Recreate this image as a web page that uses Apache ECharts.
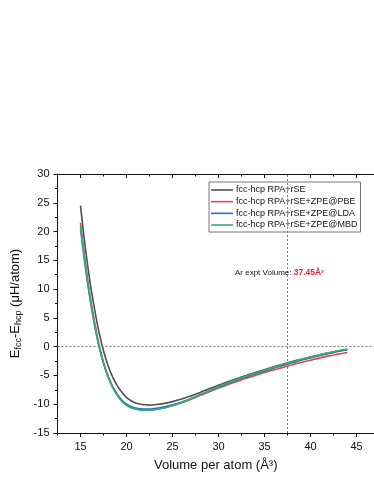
<!DOCTYPE html>
<html>
<head>
<meta charset="utf-8">
<script src="https://cdn.jsdelivr.net/npm/echarts@6/dist/echarts.min.js"></script>
<style>
html,body{margin:0;padding:0;background:#fff;}
#chart{width:374px;height:484px;}
</style>
</head>
<body>
<div id="chart"></div>
<script>
// ---- data ----
const volumes = [15, 15.5, 16, 16.5, 17, 17.5, 18, 18.5, 19, 19.5, 20, 20.5, 21, 21.5, 22, 22.5,
  23, 24, 25, 26, 27, 28, 29, 30, 31, 32, 33, 34, 35, 36, 37, 38, 39, 40, 41, 42, 43, 44];
const rse = [24.5, 17.5, 11.6, 6.8, 2.6, -0.7, -3.3, -5.3, -6.8, -7.9, -8.8, -9.4, -9.8, -10.0, -10.1, -10.15,
  -10.1, -9.9, -9.55, -9.1, -8.55, -7.95, -7.3, -6.7, -6.1, -5.55, -5.0, -4.5, -4.0, -3.5, -3.05, -2.6, -2.2, -1.8, -1.4, -1.05, -0.75, -0.45];
const pbe = [21.5, 15.0, 9.3, 4.5, 0.5, -2.7, -5.1, -6.95, -8.35, -9.4, -10.1, -10.55, -10.8, -10.95, -11.0, -11.0,
  -10.9, -10.65, -10.25, -9.75, -9.15, -8.5, -7.85, -7.2, -6.6, -6.05, -5.5, -5.0, -4.5, -4.05, -3.6, -3.15, -2.75, -2.35, -1.95, -1.6, -1.3, -1.0];
const lda = [20.5, 14.1, 8.6, 4.0, 0.1, -2.9, -5.2, -7.0, -8.3, -9.3, -10.0, -10.4, -10.65, -10.8, -10.85, -10.85,
  -10.75, -10.5, -10.1, -9.6, -9.0, -8.35, -7.7, -7.05, -6.45, -5.85, -5.3, -4.75, -4.25, -3.75, -3.25, -2.8, -2.35, -1.95, -1.55, -1.2, -0.85, -0.55];
const mbd = [21.0, 14.5, 8.9, 4.2, 0.2, -2.9, -5.3, -7.1, -8.5, -9.5, -10.2, -10.6, -10.85, -11.0, -11.05, -11.05,
  -10.95, -10.7, -10.25, -9.7, -9.05, -8.35, -7.65, -6.95, -6.3, -5.7, -5.15, -4.6, -4.1, -3.6, -3.1, -2.65, -2.2, -1.8, -1.4, -1.05, -0.7, -0.4];
const seriesNames = ['fcc-hcp RPA+rSE', 'fcc-hcp RPA+rSE+ZPE@PBE', 'fcc-hcp RPA+rSE+ZPE@LDA', 'fcc-hcp RPA+rSE+ZPE@MBD'];
const xTicks = [15, 20, 25, 30, 35, 40, 45];
const xMinorTicks = [12.5, 17.5, 22.5, 27.5, 32.5, 37.5, 42.5];
const yTicks = [-15, -10, -5, 0, 5, 10, 15, 20, 25, 30];
const exptVolume = 37.45;

// ---- chart ----
const FONT = 'Liberation Sans, Arial, sans-serif';
const colors = ['#505050', '#e8464a', '#2a6bd6', '#35b06c'];
const pair = (ys) => volumes.map((v, i) => [v, ys[i]]);
const allData = [rse, pbe, lda, mbd];

const xBase = {type: 'value', min: 12.5, max: 46.9, splitLine: {show: false}, gridIndex: 0};
const axisLineStyle = {color: '#111', width: 1};

const chart = echarts.init(document.getElementById('chart'), null, {renderer: 'canvas'});
chart.setOption({
  animation: false,
  backgroundColor: '#fff',
  textStyle: {fontFamily: FONT},
  grid: {left: 57.5, right: 0, top: 174, bottom: 51, containLabel: false},
  legend: {
    orient: 'vertical', left: 209, top: 182,
    padding: [3.5, 3, 2.5, 2],
    icon: 'rect',
    itemWidth: 22, itemHeight: 1.6, itemGap: 2.67,
    borderColor: '#777', borderWidth: 1,
    textStyle: {fontSize: 9, lineHeight: 9, color: '#111', fontFamily: FONT, padding: [0, 0, 0, -2]},
    data: seriesNames
  },
  xAxis: [
    Object.assign({}, xBase, {
      position: 'bottom',
      axisLine: {show: true, onZero: false, lineStyle: axisLineStyle},
      axisTick: {show: true, customValues: xTicks, length: 4, inside: false, lineStyle: axisLineStyle},
      axisLabel: {show: true, customValues: xTicks, fontSize: 11, margin: 8, color: '#111', fontFamily: FONT},
      name: 'Volume per atom (Å³)', nameLocation: 'middle', nameGap: 26,
      nameTextStyle: {fontSize: 13, color: '#111', fontFamily: FONT}
    }),
    Object.assign({}, xBase, {
      position: 'bottom',
      axisLine: {show: false, onZero: false},
      axisTick: {show: true, customValues: xMinorTicks, length: 2.5, inside: false, lineStyle: axisLineStyle},
      axisLabel: {show: false}
    }),
    Object.assign({}, xBase, {
      position: 'top',
      axisLine: {show: true, onZero: false, lineStyle: axisLineStyle},
      axisTick: {show: true, customValues: xTicks, length: 4, inside: true, lineStyle: axisLineStyle},
      axisLabel: {show: false}
    }),
    Object.assign({}, xBase, {
      position: 'top',
      axisLine: {show: false, onZero: false},
      axisTick: {show: true, customValues: xMinorTicks, length: 2.5, inside: true, lineStyle: axisLineStyle},
      axisLabel: {show: false}
    })
  ],
  yAxis: [{
    type: 'value', min: yTicks[0], max: yTicks[yTicks.length - 1], interval: 5,
    position: 'left',
    axisLine: {show: true, onZero: false, lineStyle: axisLineStyle},
    axisTick: {show: true, length: 4, inside: false, lineStyle: axisLineStyle},
    minorTick: {show: true, splitNumber: 2, length: 2.5, lineStyle: axisLineStyle},
    splitLine: {show: false},
    minorSplitLine: {show: false},
    axisLabel: {fontSize: 11, margin: 8, color: '#111', fontFamily: FONT},
    name: '{n|E}{s|fcc}{n|-E}{s|hcp}{n| (μH/atom)}',
    nameLocation: 'middle', nameRotate: 90, nameGap: 31,
    nameTextStyle: {
      color: '#111', fontFamily: FONT,
      rich: {
        n: {fontSize: 13, lineHeight: 14, color: '#111', fontFamily: FONT},
        s: {fontSize: 9, lineHeight: 7, verticalAlign: 'bottom', color: '#111', fontFamily: FONT}
      }
    }
  }],
  series: seriesNames.map((name, i) => {
    const s = {
      name: name, type: 'line', xAxisIndex: 0, yAxisIndex: 0,
      data: pair(allData[i]),
      smooth: 0.35, symbol: 'none', showSymbol: false,
      lineStyle: {color: colors[i], width: 1.6},
      itemStyle: {color: colors[i]},
      z: 2 + i
    };
    if (i === 0) {
      s.markLine = {
        silent: true, symbol: 'none', animation: false,
        label: {show: false},
        lineStyle: {type: [2, 2], color: '#7a7a7a', width: 1},
        data: [{yAxis: 0}, {xAxis: exptVolume}]
      };
    }
    return s;
  }),
  graphic: [{
    type: 'text', left: 235, top: 268,
    style: {
      text: '{a|Ar expt Volume: }{b|' + exptVolume.toFixed(2) + 'Å³}',
      rich: {
        a: {fontSize: 8, fill: '#111', fontFamily: FONT},
        b: {fontSize: 8.5, fill: '#e8262a', fontWeight: 'bold', fontFamily: FONT}
      }
    },
    z: 20
  }]
});
</script>
</body>
</html>
